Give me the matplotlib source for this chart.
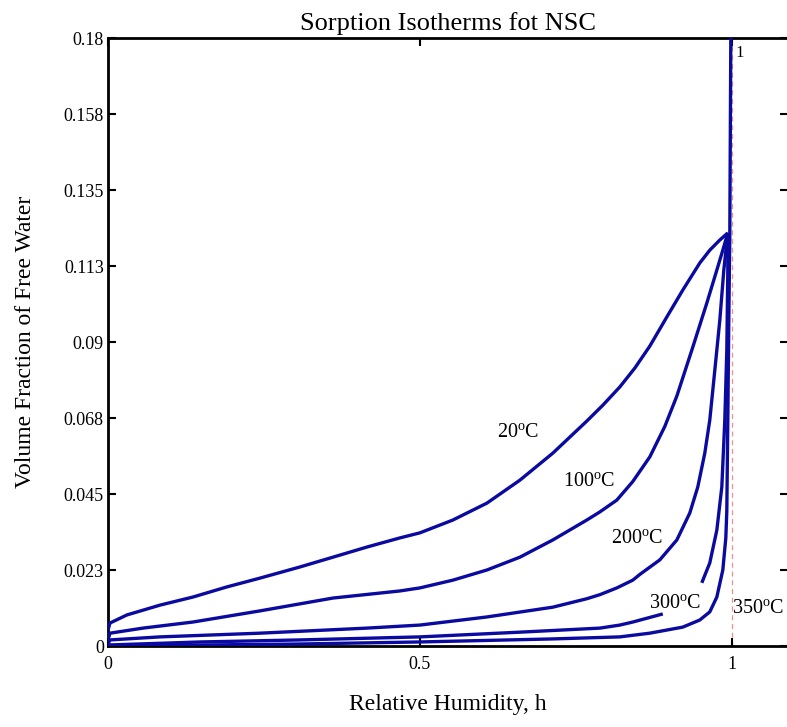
import numpy as np
import matplotlib
matplotlib.use("Agg")
import matplotlib.pyplot as plt

plt.rcParams['font.family'] = ['Liberation Serif', 'DejaVu Serif']
plt.rcParams['mathtext.fontset'] = 'custom'
plt.rcParams['mathtext.rm'] = 'Liberation Serif'

# dati (h, frazione volumetrica)
h_20 = [0.0, 0.0032, 0.0304, 0.0833, 0.1362, 0.1907, 0.2436, 0.3077, 0.3606, 0.4151,
        0.4679, 0.5000, 0.5529, 0.6074, 0.6603, 0.7131, 0.7676, 0.7933, 0.8205, 0.8446,
        0.8686, 0.8958, 0.9215, 0.9487, 0.9647, 0.9808, 0.9936]
w_20 = [0.0047, 0.0068, 0.0092, 0.0121, 0.0145, 0.0175, 0.0201, 0.0234, 0.0263, 0.0293,
        0.0320, 0.0335, 0.0373, 0.0423, 0.0491, 0.0571, 0.0666, 0.0713, 0.0767, 0.0823,
        0.0888, 0.0974, 0.1054, 0.1134, 0.1172, 0.1202, 0.1223]

h_100 = [0.0, 0.0032, 0.0561, 0.1362, 0.2436, 0.3606, 0.4679, 0.5000, 0.5529, 0.6074,
         0.6603, 0.7131, 0.7676, 0.7885, 0.8157, 0.8413, 0.8686, 0.8926, 0.9119, 0.9375,
         0.9599, 0.9760, 0.9856, 0.9936]
w_100 = [0.0018, 0.0038, 0.0053, 0.0071, 0.0104, 0.0142, 0.0163, 0.0172, 0.0195, 0.0225,
         0.0263, 0.0314, 0.0373, 0.0397, 0.0432, 0.0487, 0.0560, 0.0650, 0.0740, 0.0885,
         0.1015, 0.1113, 0.1172, 0.1223]

h_200 = [0.0, 0.0032, 0.0833, 0.2436, 0.4151, 0.5000, 0.6074, 0.7131, 0.7676, 0.7885,
         0.8157, 0.8413, 0.8526, 0.8846, 0.9119, 0.9327, 0.9455, 0.9567, 0.9647, 0.9728,
         0.9808, 0.9872, 0.9936]
w_200 = [0.0006, 0.0018, 0.0027, 0.0038, 0.0053, 0.0062, 0.0086, 0.0115, 0.0140, 0.0152,
         0.0172, 0.0195, 0.0212, 0.0255, 0.0314, 0.0394, 0.0471, 0.0571, 0.0669, 0.0817,
         0.0965, 0.1113, 0.1223]

h_300a = [0.0, 0.1474, 0.3077, 0.5000, 0.6603, 0.7885, 0.8205, 0.8413, 0.8894]
w_300a = [0.0003, 0.0012, 0.0018, 0.0027, 0.0041, 0.0053, 0.0062, 0.0071, 0.0095]
h_300b = [0.9519, 0.9647, 0.9760, 0.9840, 0.9888, 0.9920, 0.9936, 0.9936]
w_300b = [0.0187, 0.0246, 0.0343, 0.0471, 0.0669, 0.0876, 0.1113, 0.1223]

h_350 = [0.0, 0.3077, 0.5000, 0.7131, 0.8205, 0.8686, 0.9215, 0.9487, 0.9647, 0.9760,
         0.9856, 0.9904, 0.9920, 0.9936, 0.9952, 0.9968, 0.9984, 0.9990]
w_350 = [0.0, 0.0006, 0.0012, 0.0021, 0.0027, 0.0038, 0.0056, 0.0077, 0.0101, 0.0145,
         0.0225, 0.0320, 0.0400, 0.0669, 0.0965, 0.1217, 0.18, 0.19]

y_ticks = [0, 0.0225, 0.045, 0.0675, 0.09, 0.1125, 0.135, 0.1575, 0.18]
y_labels = ['0', '0.023', '0.045', '0.068', '0.09', '0.113', '0.135', '0.158', '0.18']
x_ticks = [0, 0.5, 1]
x_labels = ['0', '0.5', '1']

curve_labels = ['20$^{\\mathrm{o}}$C', '100$^{\\mathrm{o}}$C', '200$^{\\mathrm{o}}$C',
                '300$^{\\mathrm{o}}$C', '350$^{\\mathrm{o}}$C']
label_h = [0.657, 0.772, 0.849, 0.909, 1.042]
label_w = [0.063, 0.0485, 0.0314, 0.0124, 0.0107]

col = '#0a0aa0'

fig = plt.figure(figsize=(7.87, 7.27), dpi=100)
ax = fig.add_axes([0.1372, 0.1114, 0.864, 0.8363])

ax.axvline(1, color='#f09090', lw=0.9, ls=(0, (4, 3)), zorder=1)

for h, w in [(h_20, w_20), (h_100, w_100), (h_200, w_200),
             (h_300a, w_300a), (h_300b, w_300b), (h_350, w_350)]:
    ax.plot(h, w, color=col, lw=2.4, solid_capstyle='butt',
            solid_joinstyle='round', zorder=3)

for t, x, y in zip(curve_labels, label_h, label_w):
    ax.text(x, y, t, fontsize=14.5, ha='center', va='center')

ax.text(1.006, 0.1755, '1', fontsize=12, ha='left', va='center')

ax.set_xlim(0, 1.09)
ax.set_ylim(0, 0.18)
ax.set_xticks(x_ticks)
ax.set_xticklabels(x_labels)
ax.set_yticks(y_ticks)
ax.set_yticklabels(y_labels)
ax.tick_params(direction='in', length=6, width=1.5, labelsize=13,
               top=True, right=True, labeltop=False, labelright=False)
ax.tick_params(axis='x', pad=7)
ax.tick_params(axis='y', pad=3)

for s in ['left', 'top', 'bottom']:
    ax.spines[s].set_linewidth(2)
ax.spines['right'].set_visible(False)

ax.set_title('Sorption Isotherms fot NSC', fontsize=19, pad=6)
ax.set_xlabel('Relative Humidity, h', fontsize=17, labelpad=15)
ax.set_ylabel('Volume Fraction of Free Water', fontsize=17, labelpad=20)

fig.savefig('out.png', dpi=100)
